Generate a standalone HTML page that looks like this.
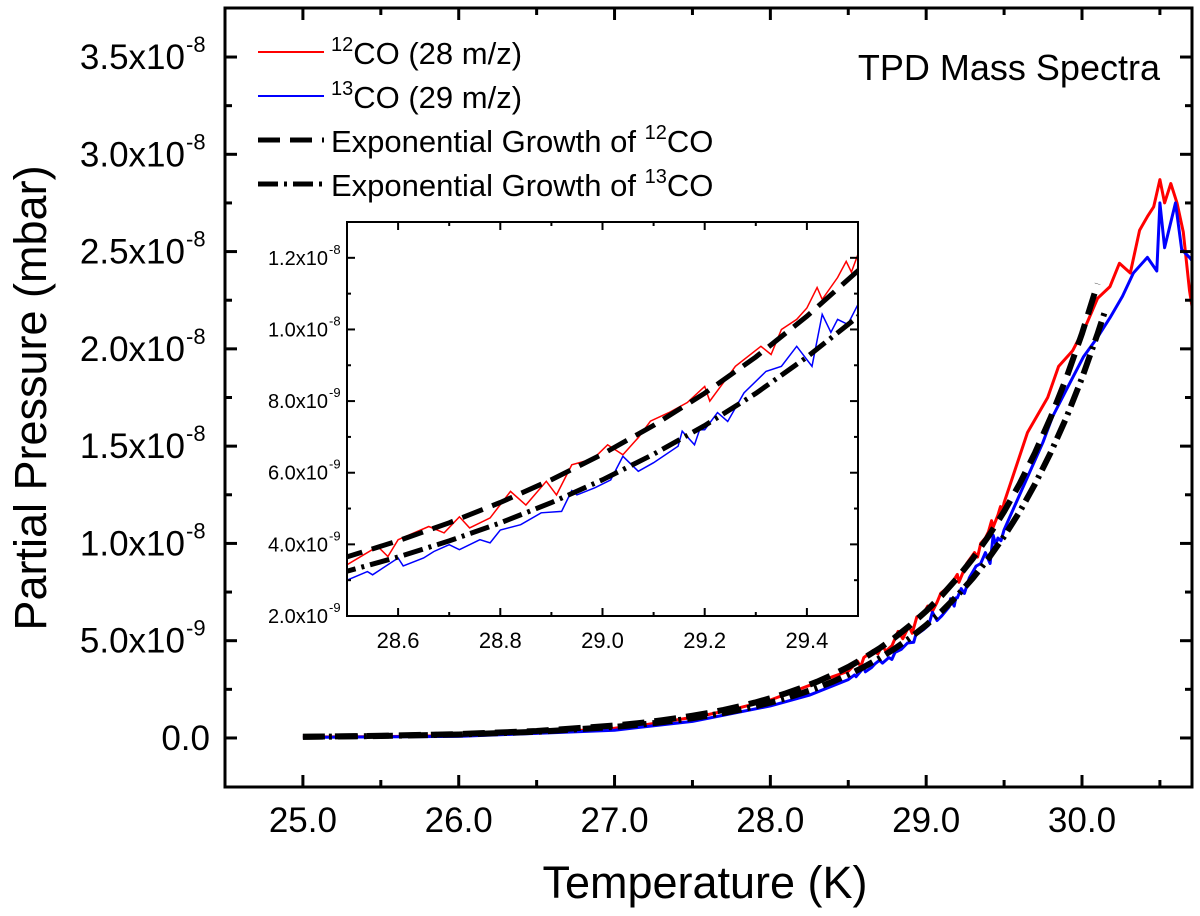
<!DOCTYPE html>
<html><head><meta charset="utf-8"><style>
html,body{margin:0;padding:0;background:#fff;}
svg{display:block;font-family:"Liberation Sans",Arial,sans-serif;}
</style></head><body>
<svg id="chart" width="1200" height="916" viewBox="0 0 1200 916" xmlns="http://www.w3.org/2000/svg">
<defs>
<clipPath id="mainClip"><rect x="225" y="8" width="967" height="779"/></clipPath>
<clipPath id="insetClip"><rect x="347" y="222" width="511" height="394"/></clipPath>
</defs>
<g id="main"></g>
<g id="inset"></g>
<g id="legend"></g>
</svg>
<script>
// ---- data (values in units of 1e-9 mbar) ----
const redT = [25.0,25.5,26.0,26.5,27.0,27.2,27.4,27.6,27.8,28.0,28.2,28.4,28.5,28.56,28.58,28.6,28.66,28.69,28.72,28.74,28.78,28.82,28.85,28.89,28.91,28.94,28.97,28.98,29.01,29.04,29.07,29.094,29.13,29.166,29.2,29.21,29.26,29.31,29.33,29.35,29.38,29.4,29.42,29.43,29.46,29.477,29.487,29.5,29.65,29.78,29.85,29.94,30.03,30.1,30.18,30.24,30.31,30.37,30.42,30.46,30.5,30.53,30.57,30.61,30.65,30.69,30.71];
const redV = [0.05,0.07,0.12,0.25,0.50,0.68,0.93,1.20,1.55,1.95,2.55,3.15,3.43,3.94,3.66,4.13,4.50,4.32,4.77,4.46,4.74,5.48,5.10,5.76,5.38,6.22,6.34,6.36,6.78,6.50,6.98,7.44,7.68,7.96,8.41,8.00,8.97,9.53,9.30,10.0,10.28,10.6,11.17,10.84,11.45,11.9,11.6,12.1,15.7,17.5,19.1,19.9,21.3,22.6,23.2,24.4,23.9,26.1,26.8,27.3,28.7,27.5,28.5,27.5,26.0,23.0,22.0];
const blueT = [25.0,26.0,27.0,27.5,28.0,28.25,28.5,28.54,28.55,28.6,28.61,28.65,28.67,28.7,28.72,28.76,28.78,28.8,28.84,28.88,28.92,28.94,28.95,28.985,29.016,29.04,29.07,29.1,29.148,29.156,29.18,29.19,29.2,29.225,29.245,29.277,29.32,29.35,29.38,29.41,29.43,29.447,29.46,29.48,29.5,29.75,29.81,29.9,30.01,30.1,30.18,30.26,30.33,30.42,30.48,30.5,30.53,30.6,30.64,30.69,30.71];
const blueV = [0.03,0.08,0.40,0.85,1.65,2.20,3.00,3.24,3.15,3.62,3.40,3.62,3.80,3.99,3.85,4.13,4.04,4.40,4.55,4.88,4.92,5.50,5.38,5.58,5.80,6.46,6.04,6.28,6.74,7.16,6.78,7.20,7.20,7.68,7.43,8.23,8.83,8.97,9.53,8.97,10.42,9.92,10.28,10.14,10.70,15.2,16.5,17.9,19.6,20.6,21.6,22.7,23.9,24.7,24.0,27.5,25.2,27.5,25.1,24.7,24.5];
const fitT = [25.0,25.5,26.0,26.5,27.0,27.1,27.2,27.3,27.4,27.5,27.6,27.7,27.8,27.9,28.0,28.1,28.2,28.3,28.4,28.5,28.6,28.7,28.8,28.9,29.0,29.1,29.2,29.3,29.4,29.5,29.6,29.7,29.8,29.9,30.0,30.1];
const fit12V = [0.0628,0.1122,0.2006,0.3586,0.641,0.720,0.808,0.907,1.019,1.144,1.285,1.443,1.621,1.820,2.044,2.295,2.577,2.894,3.25,3.65,4.099,4.603,5.169,5.805,6.519,7.321,8.221,9.232,10.37,11.64,13.07,14.68,16.49,18.51,20.79,23.35];
const fit13T = [25.0,25.5,26.0,26.5,27.0,27.1,27.2,27.3,27.4,27.5,27.6,27.7,27.8,27.9,28.0,28.1,28.2,28.3,28.4,28.5,28.6,28.7,28.8,28.9,29.0,29.1,29.2,29.3,29.4,29.5,29.6,29.7,29.8,29.9,30.0,30.1,30.15];
const fit13V = [0.0559,0.0999,0.1785,0.319,0.570,0.641,0.719,0.807,0.907,1.018,1.144,1.284,1.443,1.620,1.819,2.043,2.294,2.576,2.893,3.25,3.648,4.097,4.600,5.166,5.802,6.516,7.317,8.216,9.229,10.36,11.63,13.07,14.68,16.47,18.50,20.78,22.0];
const mainXTicks = [25,26,27,28,29,30];
const mainXLabels = ["25.0","26.0","27.0","28.0","29.0","30.0"];
const mainYTicks = [0,5,10,15,20,25,30,35];
const mainYMant = ["0.0","5.0x10","1.0x10","1.5x10","2.0x10","2.5x10","3.0x10","3.5x10"];
const mainYExp = ["","-9","-8","-8","-8","-8","-8","-8"];
const insXTicks = [28.6,28.8,29.0,29.2,29.4];
const insXLabels = ["28.6","28.8","29.0","29.2","29.4"];
const insYTicks = [2,4,6,8,10,12];
const insYMant = ["2.0x10","4.0x10","6.0x10","8.0x10","1.0x10","1.2x10"];
const insYExp = ["-9","-9","-9","-9","-8","-8"];

const NS="http://www.w3.org/2000/svg";
function mk(parent,tag,attrs,text){const e=document.createElementNS(NS,tag);for(const k in attrs)e.setAttribute(k,attrs[k]);if(text!==undefined)e.textContent=text;parent.appendChild(e);return e;}

const M={x0:225,x1:1192,y0:8,y1:787,tmin:24.5,tmax:30.706,vmin:-2.52,vmax:37.52};
const mx=t=>M.x0+(t-M.tmin)/(M.tmax-M.tmin)*(M.x1-M.x0);
const my=v=>M.y1-(v-M.vmin)/(M.vmax-M.vmin)*(M.y1-M.y0);
const I={x0:347,x1:858,y0:222,y1:616,tmin:28.5,tmax:29.5,vmin:2,vmax:13};
const ix=t=>I.x0+(t-I.tmin)/(I.tmax-I.tmin)*(I.x1-I.x0);
const iy=v=>I.y1-(v-I.vmin)/(I.vmax-I.vmin)*(I.y1-I.y0);
const pts=(T,V,fx,fy)=>T.map((t,i)=>fx(t).toFixed(1)+","+fy(V[i]).toFixed(1)).join(" ");

const main=document.getElementById('main');
const mg=mk(main,'g',{'clip-path':'url(#mainClip)'});
let e;
e=mk(mg,'polyline',{points:pts(redT,redV,mx,my),fill:'none',stroke:'#ff0000','stroke-width':3,'stroke-linejoin':'round'});

e=mk(mg,'polyline',{points:pts(blueT,blueV,mx,my),fill:'none',stroke:'#0000ff','stroke-width':3,'stroke-linejoin':'round'});

e=mk(mg,'polyline',{points:pts(fitT,fit12V,mx,my),fill:'none',stroke:'#000','stroke-width':6,'stroke-dasharray':'22 10'});

e=mk(mg,'polyline',{points:pts(fit13T,fit13V,mx,my),fill:'none',stroke:'#000','stroke-width':6,'stroke-dasharray':'20 6 3 6'});


e=mk(main,'rect',{x:M.x0,y:M.y0,width:M.x1-M.x0,height:M.y1-M.y0,fill:'none',stroke:'#000','stroke-width':3});

for(let t=25;t<=30.51;t+=0.5){const X=mx(t);const maj=Math.abs(t-Math.round(t))<0.01;const L=maj?12:7;
 mk(main,'line',{x1:X,y1:M.y1,x2:X,y2:M.y1-L,stroke:'#000','stroke-width':3});
 mk(main,'line',{x1:X,y1:M.y0,x2:X,y2:M.y0+L,stroke:'#000','stroke-width':3});}
mainXTicks.forEach((t,i)=>{e=mk(main,'text',{x:mx(t),y:832,'font-size':35,'text-anchor':'middle'},mainXLabels[i]);
 });
for(let v=0;v<=35.1;v+=2.5){const Y=my(v);const maj=Math.abs(v/5-Math.round(v/5))<0.01;const L=maj?12:7;
 mk(main,'line',{x1:M.x0,y1:Y,x2:M.x0+L,y2:Y,stroke:'#000','stroke-width':3});
 mk(main,'line',{x1:M.x1,y1:Y,x2:M.x1-L,y2:Y,stroke:'#000','stroke-width':3});}
mainYTicks.forEach((v,i)=>{const Y=my(v)+12;
 e=mk(main,'text',{x:mainYExp[i]?185:210,y:Y,'font-size':35,'text-anchor':'end'},mainYMant[i]);
 
 if(mainYExp[i]){mk(main,'text',{x:186,y:Y-17,'font-size':22,'text-anchor':'start'},mainYExp[i]);}});
e=mk(main,'text',{x:705,y:898,'font-size':45,'text-anchor':'middle'},'Temperature (K)');

e=mk(main,'text',{x:0,y:0,'font-size':45,'text-anchor':'middle',transform:'translate(46,398) rotate(-90)'},'Partial Pressure (mbar)');

e=mk(main,'text',{x:1160,y:80,'font-size':36,'text-anchor':'end'},'TPD Mass Spectra');


const ins=document.getElementById('inset');
mk(ins,'rect',{x:I.x0,y:I.y0,width:I.x1-I.x0,height:I.y1-I.y0,fill:'#fff'});
const ig=mk(ins,'g',{'clip-path':'url(#insetClip)'});
e=mk(ig,'polyline',{points:pts(redT,redV,ix,iy),fill:'none',stroke:'#ff0000','stroke-width':1.5});

e=mk(ig,'polyline',{points:pts(blueT,blueV,ix,iy),fill:'none',stroke:'#0000ff','stroke-width':1.5});

e=mk(ig,'polyline',{points:pts(fitT,fit12V,ix,iy),fill:'none',stroke:'#000','stroke-width':5,'stroke-dasharray':'22 10'});

e=mk(ig,'polyline',{points:pts(fit13T,fit13V,ix,iy),fill:'none',stroke:'#000','stroke-width':5,'stroke-dasharray':'20 6 3 6'});

e=mk(ins,'rect',{x:I.x0,y:I.y0,width:I.x1-I.x0,height:I.y1-I.y0,fill:'none',stroke:'#000','stroke-width':2});

for(let k=1;k<=9;k++){const t=28.5+k*0.1;const X=ix(t);const L=(k%2===1)?8:4;
 mk(ins,'line',{x1:X,y1:I.y1,x2:X,y2:I.y1-L,stroke:'#000','stroke-width':2});
 mk(ins,'line',{x1:X,y1:I.y0,x2:X,y2:I.y0+L,stroke:'#000','stroke-width':2});}
for(let v=3;v<=12;v+=1){const Y=iy(v);const L=(v%2===0)?8:4;
 mk(ins,'line',{x1:I.x0,y1:Y,x2:I.x0+L,y2:Y,stroke:'#000','stroke-width':2});
 mk(ins,'line',{x1:I.x1,y1:Y,x2:I.x1-L,y2:Y,stroke:'#000','stroke-width':2});}
insXTicks.forEach((t,i)=>{e=mk(ins,'text',{x:ix(t),y:648,'font-size':22,'text-anchor':'middle'},insXLabels[i]);
 });
insYTicks.forEach((v,i)=>{const Y=iy(v)+7;
 e=mk(ins,'text',{x:328,y:Y,'font-size':20,'text-anchor':'end'},insYMant[i]);
 
 mk(ins,'text',{x:329,y:Y-11,'font-size':13,'text-anchor':'start'},insYExp[i]);});

const lg=document.getElementById('legend');
const items=[{c:'#ff0000',w:2,d:null,sup:'12',t:'CO (28 m/z)',y:64},{c:'#0000ff',w:2,d:null,sup:'13',t:'CO (29 m/z)',y:108},
 {c:'#000',w:5,d:'22 10',pre:'Exponential Growth of ',sup:'12',t:'CO',y:152},{c:'#000',w:5,d:'20 6 3 6',pre:'Exponential Growth of ',sup:'13',t:'CO',y:196}];
items.forEach(it=>{const g=mk(lg,'g',{});
 
 const a={x1:258,y1:it.y-12,x2:324,y2:it.y-12,stroke:it.c,'stroke-width':it.w};if(it.d)a['stroke-dasharray']=it.d;mk(g,'line',a);
 const tx=mk(g,'text',{x:331,y:it.y,'font-size':31});
 if(it.pre){mk(tx,'tspan',{},it.pre);}
 mk(tx,'tspan',{'font-size':20,dy:-13},it.sup);mk(tx,'tspan',{dy:13},it.t);});
</script>
</body></html>
